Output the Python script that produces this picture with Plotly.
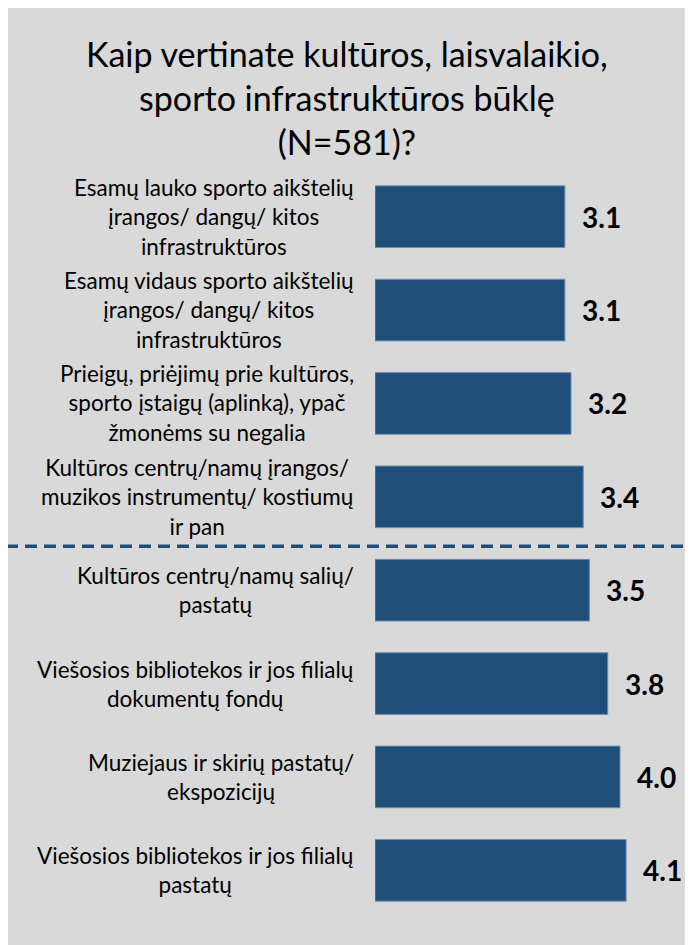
import plotly.graph_objects as go

title_text = "Kaip vertinate kultūros, laisvalaikio,<br>sporto infrastruktūros būklę<br>(N=581)?"

categories = [
    "Esamų lauko sporto aikštelių<br>įrangos/ dangų/ kitos<br>infrastruktūros",
    "Esamų vidaus sporto aikštelių<br>įrangos/ dangų/ kitos<br>infrastruktūros",
    "Prieigų, priėjimų prie kultūros,<br>sporto įstaigų (aplinką), ypač<br>žmonėms su negalia",
    "Kultūros centrų/namų įrangos/<br>muzikos instrumentų/ kostiumų<br>ir pan",
    "Kultūros centrų/namų salių/<br>pastatų",
    "Viešosios bibliotekos ir jos filialų<br>dokumentų fondų",
    "Muziejaus ir skirių pastatų/<br>ekspozicijų",
    "Viešosios bibliotekos ir jos filialų<br>pastatų",
]
values = [3.1, 3.1, 3.2, 3.4, 3.5, 3.8, 4.0, 4.1]

BAR = "#1f4e79"
BG = "#d9d9d9"
FONT = "Lato"

# page body adds an 8px margin; the figure overflows the window to the right/bottom
W, H = 693, 945
ML, MR, MT, MB = 367, 8, 162, 36
PW = W - ML - MR
PH = H - MT - MB

def px_x(px):
    return (px - ML) / PW

def px_y(py):
    return (H - MB - py) / PH

fig = go.Figure()
fig.add_trace(go.Bar(
    x=values, y=categories, orientation="h",
    marker=dict(color=BAR, line=dict(color="#6f8fae", width=1)),
    hoverinfo="skip",
))

annotations = []
for c, v in zip(categories, values):
    annotations.append(dict(
        x=px_x(348), xref="paper", y=c, yref="y",
        text=c, showarrow=False, xanchor="right", yanchor="middle",
        align="center", font=dict(family=FONT, size=22.5, color="black"),
    ))
    annotations.append(dict(
        x=v, xref="x", y=c, yref="y",
        text=f"<b>{v:.1f}</b>", showarrow=False, xanchor="left", yanchor="middle",
        xshift=15, font=dict(family=FONT, size=28, color="black"),
    ))
annotations.append(dict(
    x=px_x(339), xref="paper", y=px_y(90), yref="paper",
    text=title_text, showarrow=False, xanchor="center", yanchor="middle",
    align="center", font=dict(family=FONT, size=34, color="black"),
))

shapes = [
    dict(type="line", xref="paper", yref="y",
         x0=px_x(-2), x1=px_x(W + 5), y0=3.53, y1=3.53,
         line=dict(color=BAR, width=3.5, dash="12px,7px")),
]

fig.update_layout(
    width=W, height=H,
    margin=dict(l=ML, r=MR, t=MT, b=MB),
    paper_bgcolor=BG,
    plot_bgcolor=BG,
    showlegend=False,
    bargap=0.34,
    xaxis=dict(range=[0, PW / 61.25], visible=False, fixedrange=True),
    yaxis=dict(autorange="reversed", showticklabels=False, showgrid=False,
               zeroline=False, showline=False, ticks="", fixedrange=True),
    annotations=annotations,
    shapes=shapes,
)

fig.write_html("out.html")
